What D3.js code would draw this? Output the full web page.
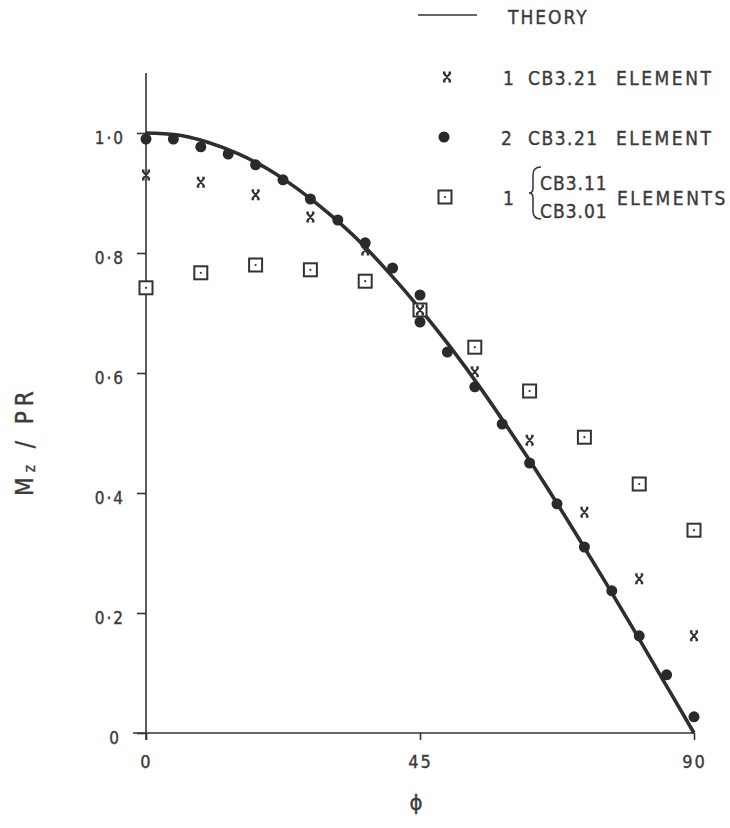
<!DOCTYPE html>
<html>
<head>
<meta charset="utf-8">
<script src="https://cdn.jsdelivr.net/npm/d3@7"></script>
<style>
  body { margin: 0; background: #fff; }
  text { font-family: "DejaVu Sans Condensed", "DejaVu Sans", sans-serif; fill: #3a3a3a; stroke: #3a3a3a; stroke-width: 0.35px; }
</style>
</head>
<body>
<svg id="chart"></svg>
<script>
// theory curve (phi in degrees, Mz/PR)
const theoryPhi = [0, 5, 10, 15, 20, 25, 30, 35, 40, 45, 50, 55, 60, 65, 70, 75, 80, 85, 90];
const theoryVal = [1.00, 0.997, 0.985, 0.966, 0.94, 0.906, 0.866, 0.82, 0.766, 0.707, 0.643, 0.574, 0.50, 0.423, 0.342, 0.259, 0.174, 0.087, 0.00];

// 2 CB3.21 element (dots)
const dotPhi = [0, 4.5, 9, 13.5, 18, 22.5, 27, 31.5, 36, 40.5, 45, 45, 49.5, 54, 58.5, 63, 67.5, 72, 76.5, 81, 85.5, 90];
const dotVal = [0.99, 0.99, 0.977, 0.965, 0.947, 0.922, 0.89, 0.855, 0.817, 0.775, 0.73, 0.685, 0.635, 0.577, 0.515, 0.45, 0.382, 0.31, 0.237, 0.162, 0.097, 0.027];

// 1 CB3.21 element (crosses)
const crossPhi = [0, 9, 18, 27, 36, 45, 54, 63, 72, 81, 90];
const crossVal = [0.93, 0.918, 0.897, 0.86, 0.805, 0.705, 0.602, 0.488, 0.368, 0.257, 0.162];

// 1 CB3.11 / CB3.01 elements (squares)
const squarePhi = [0, 9, 18, 27, 36, 45, 54, 63, 72, 81, 90];
const squareVal = [0.742, 0.767, 0.78, 0.772, 0.753, 0.705, 0.643, 0.57, 0.493, 0.415, 0.338];

const xTicks = [0, 45, 90];
const xTickLabels = ["0", "45", "90"];
const yTicks = [0, 0.2, 0.4, 0.6, 0.8, 1.0];
const yTickLabels = ["0", "0·2", "0·4", "0·6", "0·8", "1·0"];

const width = 730, height = 828;
const ink = "#333";

const x = d3.scaleLinear([0, 90], [146, 694]);
const y = d3.scaleLinear([0, 1], [733, 133]);

const svg = d3.select("#chart")
  .attr("width", width)
  .attr("height", height)
  .attr("viewBox", [0, 0, width, height]);

// axes lines
svg.append("line")
  .attr("x1", x(0)).attr("x2", x(0))
  .attr("y1", y(1.1)).attr("y2", y(0) + 7)
  .attr("stroke", ink).attr("stroke-width", 1.6);
svg.append("line")
  .attr("x1", x(0) - 13).attr("x2", x(90))
  .attr("y1", y(0)).attr("y2", y(0))
  .attr("stroke", ink).attr("stroke-width", 1.6);

// y axis
const gy = svg.append("g")
  .attr("transform", `translate(${x(0)},0)`)
  .call(d3.axisLeft(y)
    .tickValues(yTicks)
    .tickFormat((d, i) => yTickLabels[i])
    .tickSize(9)
    .tickPadding(12)
    .tickSizeOuter(0));
gy.select(".domain").remove();
gy.selectAll(".tick line").attr("stroke", ink).attr("stroke-width", 1.6);
gy.selectAll(".tick text")
  .attr("fill", "#3a3a3a")
  .attr("dy", "0.6em")
  .style("font-size", "17px")
  .style("letter-spacing", "2px")
  .style("font-family", null);
gy.select(".tick text").attr("dx", -4); // the lone "0" sits further left

// x axis
const gx = svg.append("g")
  .attr("transform", `translate(0,${y(0)})`)
  .call(d3.axisBottom(x)
    .tickValues(xTicks)
    .tickFormat((d, i) => xTickLabels[i])
    .tickSize(7)
    .tickPadding(15)
    .tickSizeOuter(0));
gx.select(".domain").remove();
gx.selectAll(".tick line").attr("stroke", ink).attr("stroke-width", 1.6);
gx.selectAll(".tick text")
  .attr("fill", "#3a3a3a")
  .style("font-size", "18px")
  .style("letter-spacing", "2px")
  .style("font-family", null);

// axis titles
svg.append("text")
  .attr("x", 416).attr("y", 810)
  .attr("text-anchor", "middle")
  .style("font-size", "22px")
  .text("ϕ");

const yl = svg.append("text")
  .attr("transform", "translate(33,441) rotate(-90)")
  .attr("text-anchor", "middle")
  .style("font-size", "24px")
  .style("letter-spacing", "5px");
yl.append("tspan").text("M");
yl.append("tspan").attr("dy", 2).style("font-size", "15px").text("z");
yl.append("tspan").attr("dy", -2).text(" / PR");

// theory curve
const line = d3.line()
  .x((d, i) => x(theoryPhi[i]))
  .y(d => y(d))
  .curve(d3.curveMonotoneX);
svg.append("path")
  .datum(theoryVal)
  .attr("d", line)
  .attr("fill", "none")
  .attr("stroke", "#2e2e2e")
  .attr("stroke-width", 3.6);

// markers
function cross(g, cx, cy) {
  g.append("path")
    .attr("d", `M${cx - 3.5},${cy - 4}L${cx + 3.5},${cy + 4}M${cx + 3.5},${cy - 4}L${cx - 3.5},${cy + 4}` +
      `M${cx - 4},${cy - 4.5}L${cx - 1.5},${cy - 4.5}M${cx + 1.5},${cy - 4.5}L${cx + 4},${cy - 4.5}` +
      `M${cx - 4},${cy + 4.5}L${cx - 1.5},${cy + 4.5}M${cx + 1.5},${cy + 4.5}L${cx + 4},${cy + 4.5}`)
    .attr("stroke", "#333").attr("stroke-width", 2).attr("fill", "none");
}
function square(g, cx, cy) {
  g.append("rect")
    .attr("x", cx - 6.5).attr("y", cy - 6.5)
    .attr("width", 13).attr("height", 13)
    .attr("fill", "#fff").attr("stroke", "#333").attr("stroke-width", 2);
  g.append("circle").attr("cx", cx).attr("cy", cy).attr("r", 1.1).attr("fill", "#333");
}

const gs = svg.append("g");
squarePhi.forEach((p, i) => square(gs, x(p), y(squareVal[i])));

const gc = svg.append("g");
crossPhi.forEach((p, i) => cross(gc, x(p), y(crossVal[i])));

svg.append("g").selectAll("circle")
  .data(dotVal)
  .join("circle")
  .attr("cx", (d, i) => x(dotPhi[i]))
  .attr("cy", d => y(d))
  .attr("r", 5.5)
  .attr("fill", "#2a2a2a");

// legend
const lg = svg.append("g").style("font-size", "19px").style("letter-spacing", "2.5px");
lg.append("line").attr("x1", 418).attr("x2", 477).attr("y1", 15).attr("y2", 15)
  .attr("stroke", "#333").attr("stroke-width", 1.6);
lg.append("text").attr("x", 508).attr("y", 24).style("letter-spacing", "2px").text("THEORY");

cross(lg, 447, 77);
lg.append("text").attr("x", 503).attr("y", 85).text("1");
lg.append("text").attr("x", 528).attr("y", 85).style("letter-spacing", "1.5px").text("CB3.21");
lg.append("text").attr("x", 616).attr("y", 85).text("ELEMENT");

lg.append("circle").attr("cx", 444).attr("cy", 137).attr("r", 5.5).attr("fill", "#2a2a2a");
lg.append("text").attr("x", 501).attr("y", 145).text("2");
lg.append("text").attr("x", 528).attr("y", 145).style("letter-spacing", "1.5px").text("CB3.21");
lg.append("text").attr("x", 616).attr("y", 145).text("ELEMENT");

square(lg, 445, 197);
lg.append("text").attr("x", 503).attr("y", 205).text("1");
lg.append("path")
  .attr("d", "M541,167 Q533,167 533,175 L533,188 Q533,193 529,193 Q533,193 533,198 L533,211 Q533,219 541,219")
  .attr("fill", "none").attr("stroke", "#333").attr("stroke-width", 1.5);
lg.append("text").attr("x", 540).attr("y", 190).style("letter-spacing", "1px").text("CB3.11");
lg.append("text").attr("x", 540).attr("y", 218).style("letter-spacing", "1px").text("CB3.01");
lg.append("text").attr("x", 617).attr("y", 205).text("ELEMENTS");
</script>
</body>
</html>
